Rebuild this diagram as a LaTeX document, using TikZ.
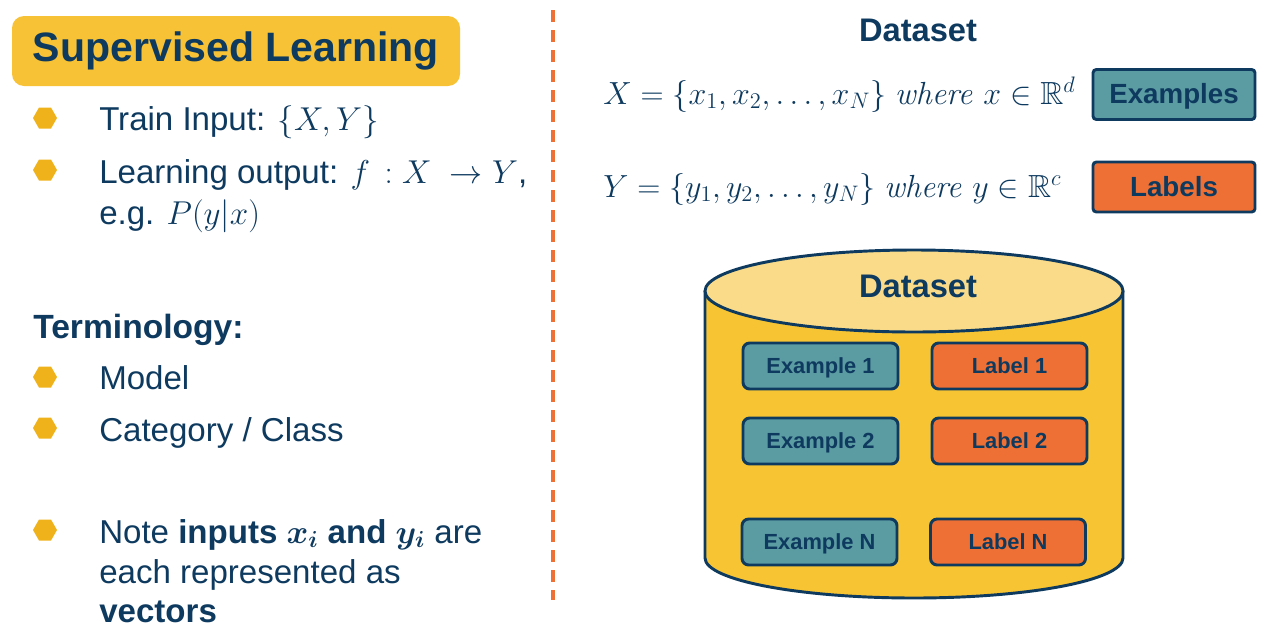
\RequirePackage{fix-cm}
\documentclass[tikz,border=0pt]{standalone}
\usepackage{amsmath,amssymb}
\usepackage[no-math]{fontspec}
\setmainfont{Liberation Sans}
\usetikzlibrary{shapes.geometric}
\definecolor{navy}{HTML}{0E3A5F}
\definecolor{titleyellow}{HTML}{F7C236}
\definecolor{bulletyellow}{HTML}{EFB21A}
\definecolor{dashorange}{HTML}{EE7034}
\definecolor{tealbox}{HTML}{5B9BA2}
\definecolor{orangebox}{HTML}{EF7035}
\definecolor{cylbody}{HTML}{F7C434}
\definecolor{cyltop}{HTML}{FADB8A}
\tikzset{
  txt/.style={anchor=base west, inner sep=0pt, text=navy, font=\fontsize{24.8}{28}\selectfont},
  boldtxt/.style={txt, font=\fontsize{25.2}{28}\selectfont\bfseries},
  hexbullet/.style={fill=bulletyellow, draw=none},
  bigbox/.style={draw=navy, line width=2.2pt, rounded corners=2.5pt, minimum width=162*0.75pt, minimum height=50*0.75pt, text=navy, text depth=1pt, font=\fontsize{20.8}{24}\selectfont\bfseries},
  smallbox/.style={draw=navy, line width=2.2pt, rounded corners=5pt, minimum width=155*0.75pt, minimum height=46*0.75pt, text=navy, text depth=0.5pt, font=\fontsize{16.4}{20}\selectfont\bfseries},
  mathtxt/.style={anchor=base west, inner sep=0pt, text=navy, font=\fontsize{24}{28}\selectfont},
}
\newcommand{\hexat}[2]{\fill[hexbullet] (#1-12,#2) -- (#1-6,#2+10.5) -- (#1+6,#2+10.5) -- (#1+12,#2) -- (#1+6,#2-10.5) -- (#1-6,#2-10.5) -- cycle;}
\begin{document}
\begin{tikzpicture}[x=0.75pt,y=0.75pt]
\path[use as bounding box] (0,0) rectangle (1280,-632);
% title
\node[fill=titleyellow, rounded corners=9pt, minimum width=448*0.75pt, minimum height=70*0.75pt, text=navy, font=\fontsize{30.8}{34}\selectfont\bfseries] (title) at (236,-51) {Supervised Learning};
% bullets
\hexat{45}{-118}
\hexat{45}{-170}
\hexat{45}{-377}
\hexat{45}{-428}
\hexat{45}{-530}
\node[txt] (t1) at (99,-130) {Train Input: $\{X, Y\}$};
\node[txt] (t2) at (99,-183) {Learning output: $f\,:X\ \rightarrow Y$,};
\node[txt] (t3) at (99,-224) {e.g. $P(y|x)$};
\node[boldtxt] (term) at (33,-338) {Terminology:};
\node[txt] (m1) at (99,-389) {Model};
\node[txt] (m2) at (99,-441) {Category / Class};
\node[txt] (n1) at (99,-543) {Note \textbf{inputs $\boldsymbol{x_i}$ and $\boldsymbol{y_i}$} are};
\node[txt] (n2) at (99,-583) {each represented as};
\node[txt] (n3) at (99,-622) {\textbf{vectors}};
% dashed divider
\coordinate (dtop) at (553,-10);
\coordinate (dbot) at (553,-600);
\draw[dashorange, line width=2.4pt, dash pattern=on 9pt off 6pt] (dtop) -- (dbot);
% right side header
\node[text=navy, font=\fontsize{24.5}{28}\selectfont\bfseries] (dshead) at (918,-30) {Dataset};
\node[mathtxt] (eqx) at (603,-104) {$X = \{x_1, x_2, \dots, x_N\}\ \mathit{where}\ x \in \mathbb{R}^d$};
\node[mathtxt] (eqy) at (603,-197) {$Y = \{y_1, y_2, \dots, y_N\}\ \mathit{where}\ y \in \mathbb{R}^c$};
\node[bigbox, fill=tealbox] (examples) at (1174,-94.5) {Examples};
\node[bigbox, fill=orangebox] (labels) at (1174,-187) {Labels};
% cylinder
\path[fill=cylbody, draw=navy, line width=2.2pt] (705,-291) -- (705,-558) arc[start angle=180, end angle=360, x radius=209, y radius=40] -- (1123,-291);
\draw[fill=cyltop, draw=navy, line width=2.2pt] (914,-291) ellipse [x radius=209, y radius=41];
\node[text=navy, font=\fontsize{24.5}{28}\selectfont\bfseries] (cylhead) at (918,-286) {Dataset};
\node[smallbox, fill=tealbox] (ex1) at (820.5,-366) {Example 1};
\node[smallbox, fill=orangebox] (lb1) at (1009.5,-366) {Label 1};
\node[smallbox, fill=tealbox] (ex2) at (820.5,-441) {Example 2};
\node[smallbox, fill=orangebox] (lb2) at (1009.5,-441) {Label 2};
\node[smallbox, fill=tealbox] (exn) at (819.5,-542) {Example N};
\node[smallbox, fill=orangebox] (lbn) at (1008,-542) {Label N};
\end{tikzpicture}
\end{document}
